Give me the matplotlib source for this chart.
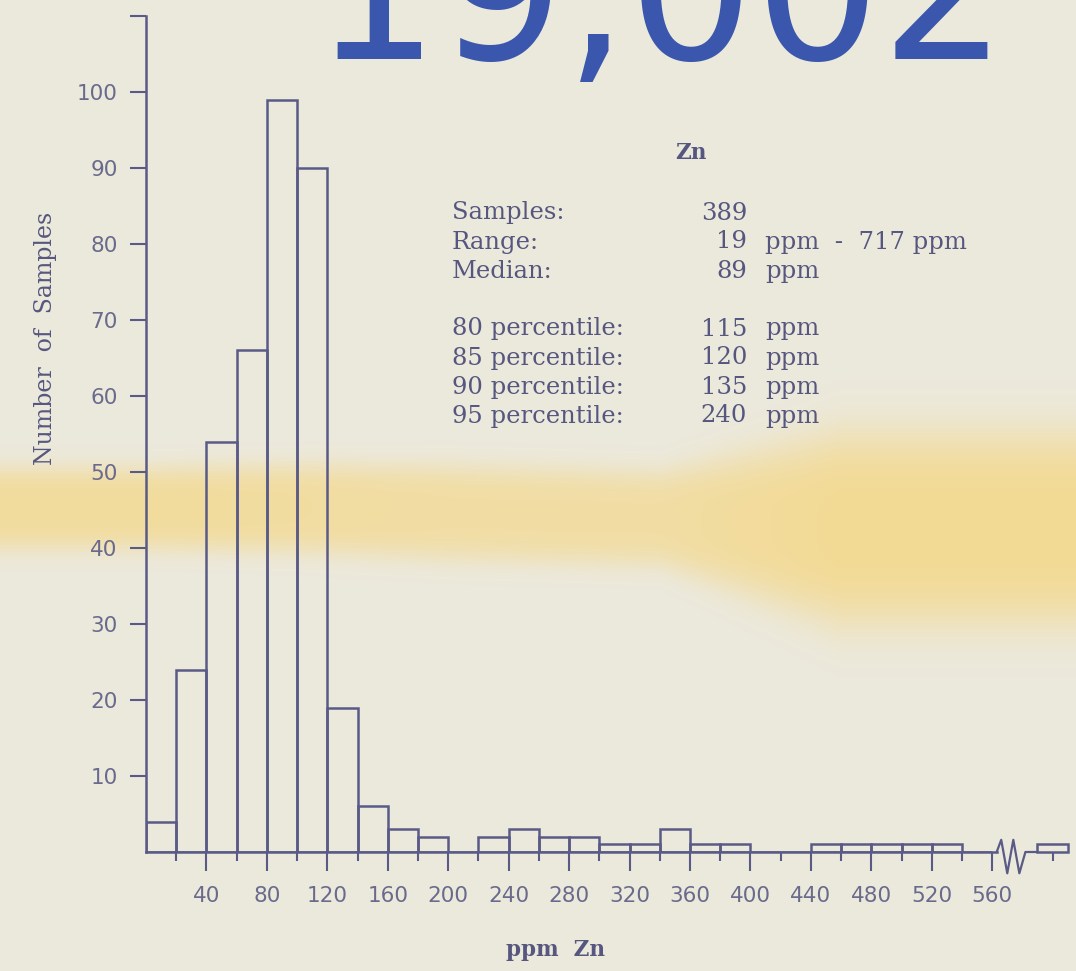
import numpy as np
import matplotlib.pyplot as plt

# ---------------- Datos (histograma Zn, ppm) ----------------
bin_left = np.arange(0, 560, 20)          # borde izquierdo de cada clase de 20 ppm
counts = [4, 24, 54, 66, 99, 90, 19, 6, 3, 2,
          0, 2, 3, 2, 2, 1, 1, 3, 1, 1,
          0, 0, 1, 1, 1, 1, 1, 0]
outlier_left = 700                        # clase aislada (máx. 717 ppm), tras el corte del eje
outlier_count = 1

x_major = np.arange(40, 561, 40)
x_minor = np.arange(20, 541, 40)
y_ticks = np.arange(10, 101, 10)

stat_names = ["Samples:", "Range:", "Median:",
              "80 percentile:", "85 percentile:", "90 percentile:", "95 percentile:"]
stat_values = ["389", "19", "89", "115", "120", "135", "240"]
stat_units = ["", "ppm  -  717 ppm", "ppm", "ppm", "ppm", "ppm", "ppm"]
stamp = "19,002"

# ---------------- Estilo ----------------
W, H = 1076, 971
paper = np.array([0.925, 0.914, 0.863])
yellow = np.array([0.955, 0.850, 0.560])
line_c = "#5a5a86"
text_c = "#56567f"
tick_c = "#6a6a8c"

def fx(px):
    return px / W

def fy(py):
    return 1 - py / H

fig = plt.figure(figsize=(W / 100, H / 100), dpi=100)
fig.patch.set_facecolor(paper)

# fondo de papel con la mancha amarilla
xx = np.arange(W)[None, :]
yy = np.arange(H)[:, None]
right = np.clip((xx - 660) / 180, 0, 1)
c = 508 + np.clip((xx - 300) / 500, 0, 1) * 14 + right * 6
w = 42 + np.clip((xx - 150) / 300, 0, 1) * 6 + right * 50
a = 0.80 - 0.08 * np.clip((xx - 200) / 250, 0, 1) + 0.2 * right
alpha = a * np.exp(-np.abs((yy - c) / w) ** 4)
img = paper[None, None, :] * (1 - alpha[..., None]) + yellow[None, None, :] * alpha[..., None]
bg = fig.add_axes([0, 0, 1, 1], zorder=-5)
bg.imshow(img, extent=[0, W, H, 0], aspect="auto")
bg.axis("off")

# ---------------- Histograma ----------------
px_per_ppm = 1.511
ax = fig.add_axes([fx(146), fy(852), 620 * px_per_ppm / W, (852 - 16) / H])
ax.set_facecolor("none")
ax.set_xlim(0, 620)
ax.set_ylim(0, 110)

ax.bar(bin_left, counts, width=20, align="edge", fill=False,
       edgecolor=line_c, linewidth=1.8)

# clase aislada dibujada después del corte
shift = outlier_left - 590
ax.bar([outlier_left - shift], [outlier_count], width=20, align="edge", fill=False,
       edgecolor=line_c, linewidth=1.8, clip_on=False)
ax.plot([563, 566, 570, 574, 578, 582, 590], [0, 1.6, -2.8, 1.6, -2.8, 0, 0],
        color=line_c, linewidth=1.6, clip_on=False)

for s in ["top", "right"]:
    ax.spines[s].set_visible(False)
ax.spines["left"].set_bounds(0, 110)
ax.spines["bottom"].set_bounds(0, 563)
for s in ["left", "bottom"]:
    ax.spines[s].set_color(line_c)
    ax.spines[s].set_linewidth(1.8)

ax.set_xticks(x_major)
ax.set_xticklabels([str(v) for v in x_major])
ax.set_xticks(list(x_minor) + [600], minor=True)
ax.set_yticks(list(y_ticks) + [110])
ax.set_yticklabels([str(v) for v in y_ticks] + [""])

ax.tick_params(axis="x", which="major", direction="out", length=13.5, width=1.5,
               color=line_c, labelcolor=tick_c, labelsize=15.5, pad=11)
ax.tick_params(axis="x", which="minor", direction="out", length=6.5, width=1.5,
               color=line_c)
ax.tick_params(axis="y", direction="out", length=11.5, width=1.5,
               color=line_c, labelcolor=tick_c, labelsize=15.5, pad=9)

# ---------------- Textos ----------------
fig.text(fx(46), fy(338), "Number  of  Samples", rotation=90, ha="center", va="center",
         family="DejaVu Serif", fontsize=17, color=text_c)
fig.text(fx(556), fy(950), "ppm  Zn", ha="center", va="center",
         family="DejaVu Serif", fontsize=15.5, weight="bold", color=text_c)

fig.text(fx(691), fy(153), "Zn", ha="center", va="center",
         family="DejaVu Serif", fontsize=15.5, weight="bold", color=text_c)
rows_y = [213, 242, 271, 329, 358, 387, 416]
for name, val, unit, ry in zip(stat_names, stat_values, stat_units, rows_y):
    fig.text(fx(452), fy(ry), name, ha="left", va="center",
             family="DejaVu Serif", fontsize=17.5, color=text_c)
    fig.text(fx(747), fy(ry), val, ha="right", va="center",
             family="DejaVu Serif", fontsize=17.5, color=text_c)
    if unit:
        fig.text(fx(765), fy(ry), unit, ha="left", va="center",
                 family="DejaVu Serif", fontsize=17.5, color=text_c)

# número estampado, cortado por el borde superior
fig.text(fx(312), fy(59), stamp, ha="left", va="baseline",
         family="DejaVu Sans", fontsize=143, color="#3b57ad")

fig.savefig("out.png", dpi=100, facecolor=fig.get_facecolor())
